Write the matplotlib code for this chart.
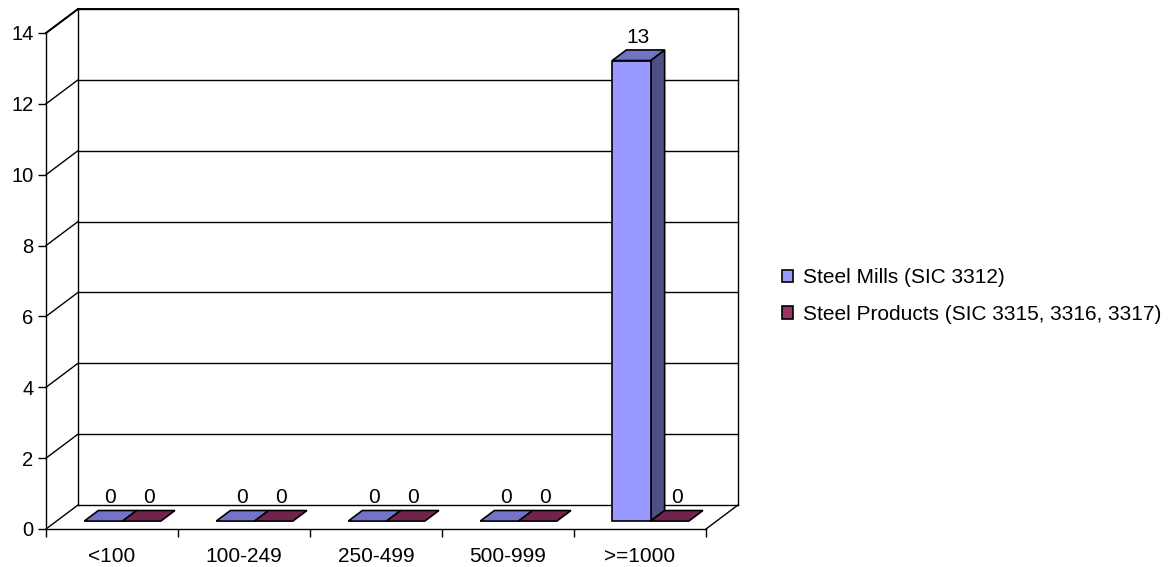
import matplotlib
matplotlib.use("Agg")
import matplotlib.pyplot as plt
from matplotlib.patches import Polygon, Rectangle

plt.rcParams["font.family"] = ["Liberation Sans", "DejaVu Sans"]

categories = ["<100", "100-249", "250-499", "500-999", ">=1000"]
series_names = ["Steel Mills (SIC 3312)", "Steel Products (SIC 3315, 3316, 3317)"]
steel_mills = [0, 0, 0, 0, 13]
steel_products = [0, 0, 0, 0, 0]
y_ticks = [0, 2, 4, 6, 8, 10, 12, 14]

series_values = [steel_mills, steel_products]
# (front, top, side) face colours per series
face_colors = [("#9999FF", "#7373C8", "#4F4F85"),
               ("#993366", "#70244C", "#4D1A33")]

FS = 15

W, H = 1175, 567
fig = plt.figure(figsize=(W / 100, H / 100), dpi=100)
# axes = front plane of the 3-D box
ax = fig.add_axes([46 / W, (H - 529) / H, 660 / W, 496 / H])
n_cat = len(categories)
ymax = 14
ax.set_xlim(0, n_cat)
ax.set_ylim(0, ymax)

# depth of the box in data units
DX = 32 / 132
DY = 24 * ymax / 496

for s in ("top", "right"):
    ax.spines[s].set_visible(False)
for s in ("left", "bottom"):
    ax.spines[s].set_linewidth(1.0)
    ax.spines[s].set_color("black")

ax.set_yticks(y_ticks)
ax.set_yticklabels([str(t) for t in y_ticks], fontsize=FS - 0.5)
ax.set_xticks(range(n_cat + 1))
ax.set_xticklabels([])
ax.set_xticks([i + 0.5 for i in range(n_cat)], minor=True)
ax.set_xticklabels(categories, minor=True, fontsize=FS)
ax.tick_params(axis="y", direction="out", length=6, width=1, pad=3)
ax.tick_params(axis="x", which="major", direction="out", length=6, width=1)
ax.tick_params(axis="x", which="minor", length=0, pad=13)

line_kw = dict(color="black", lw=1.0, clip_on=False, zorder=1)
# back wall gridlines and left wall diagonals
for t in y_ticks:
    ax.plot([DX, n_cat + DX], [t + DY, t + DY], **line_kw)
    ax.plot([0, DX], [t, t + DY], **line_kw)
# wall edges
ax.plot([DX, DX], [DY, ymax + DY], **line_kw)
ax.plot([n_cat + DX, n_cat + DX], [DY, ymax + DY], **line_kw)
ax.plot([n_cat, n_cat + DX], [0, DY], **line_kw)
ax.plot([0, DX], [ymax, ymax + DY], color="black", lw=1.4, clip_on=False, zorder=1)
ax.plot([DX, n_cat + DX], [ymax + DY, ymax + DY], color="black", lw=1.4, clip_on=False, zorder=1)

# bars
bar_w = 0.29
z0, z1 = 0.33, 0.77
start = (1 - 2 * bar_w) / 2
edge_kw = dict(edgecolor="black", linewidth=1.2, joinstyle="miter", clip_on=False)
z = 3
for i in range(n_cat):
    for s, vals in enumerate(series_values):
        v = vals[i]
        x0 = i + start + s * bar_w
        x1 = x0 + bar_w
        fx0, fx1 = x0 + z0 * DX, x1 + z0 * DX
        bx0, bx1 = x0 + z1 * DX, x1 + z1 * DX
        fy, by = z0 * DY, z1 * DY
        front_c, top_c, side_c = face_colors[s]
        if v > 0:
            ax.add_patch(Polygon([(fx1, fy), (bx1, by), (bx1, v + by), (fx1, v + fy)],
                                 closed=True, facecolor=side_c, zorder=z, **edge_kw))
            ax.add_patch(Polygon([(fx0, fy), (fx1, fy), (fx1, v + fy), (fx0, v + fy)],
                                 closed=True, facecolor=front_c, zorder=z, **edge_kw))
        ax.add_patch(Polygon([(fx0, v + fy), (fx1, v + fy), (bx1, v + by), (bx0, v + by)],
                             closed=True, facecolor=top_c, zorder=z, **edge_kw))
        z += 1
        cx = (fx0 + fx1 + bx0 + bx1) / 4
        cy = v + (fy + by) / 2
        ax.annotate(str(v), (cx, cy), xytext=(0, 18), textcoords="offset pixels",
                    ha="center", va="center", fontsize=FS, zorder=20,
                    annotation_clip=False)

# legend
handles = [Rectangle((0, 0), 1, 1, facecolor=face_colors[s][0], edgecolor="black", lw=1.2)
           for s in range(2)]
fig.legend(handles, series_names, loc="center left", bbox_to_anchor=(782 / W, 1 - 296 / H),
           frameon=False, fontsize=FS, handlelength=0.55, handleheight=0.55,
           handletextpad=0.45, labelspacing=0.85, borderaxespad=0, borderpad=0)

fig.savefig("out.png", dpi=100)
